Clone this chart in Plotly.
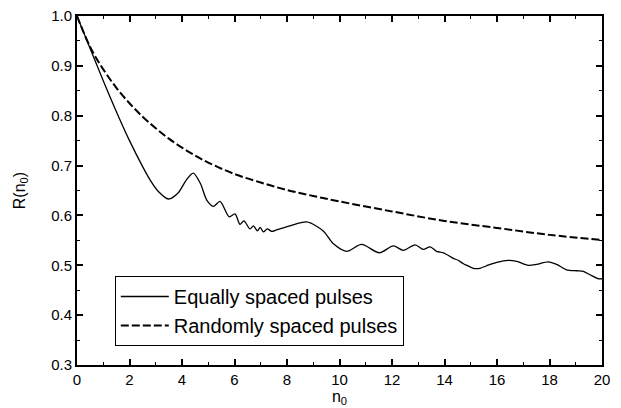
import plotly.graph_objects as go

# Equally spaced pulses (solid)
n_equal = [0, 0.5, 1.0, 1.5, 2.0, 2.5, 2.8, 3.1, 3.48, 3.85, 4.15, 4.43, 4.7, 4.95, 5.19,
           5.45, 5.8, 6.02, 6.21, 6.36, 6.59, 6.72, 6.87, 6.98, 7.1, 7.25, 7.42, 7.6,
           8.11, 8.75, 9.38, 9.77, 10.27, 10.84, 11.52, 12.05, 12.43, 12.88, 13.19, 13.45,
           13.7, 13.96, 14.34, 14.52, 14.72, 14.85, 15.1, 15.35, 15.6, 15.99, 16.43,
           16.75, 17.19, 17.51, 17.95, 18.27, 18.65, 19.04, 19.29, 19.54, 19.86, 20.0]
r_equal = [1.0, 0.935, 0.870, 0.808, 0.750, 0.698, 0.670, 0.648, 0.633, 0.645, 0.670,
           0.685, 0.664, 0.630, 0.618, 0.628, 0.597, 0.603, 0.582, 0.589, 0.573, 0.579,
           0.569, 0.576, 0.567, 0.573, 0.568, 0.571, 0.579, 0.587, 0.569, 0.543, 0.528,
           0.542, 0.525, 0.539, 0.530, 0.541, 0.532, 0.537, 0.528, 0.525, 0.514, 0.510,
           0.503, 0.500, 0.494, 0.494, 0.499, 0.506, 0.510, 0.508, 0.500, 0.502, 0.507,
           0.502, 0.491, 0.489, 0.488, 0.481, 0.473, 0.473]

# Randomly spaced pulses (dashed)
n_random = [0, 0.5, 1, 1.5, 2, 2.5, 3, 3.5, 4, 4.5, 5, 6, 7, 8, 9, 10, 12, 14, 16, 18, 20]
r_random = [1.0, 0.938, 0.893, 0.856, 0.825, 0.798, 0.775, 0.754, 0.736, 0.720, 0.706,
            0.683, 0.666, 0.651, 0.639, 0.628, 0.608, 0.589, 0.575, 0.561, 0.551]

x_ticks = [0, 2, 4, 6, 8, 10, 12, 14, 16, 18, 20]
y_ticks = [0.3, 0.4, 0.5, 0.6, 0.7, 0.8, 0.9, 1.0]

FONT = "Liberation Sans, Arial, sans-serif"

fig = go.Figure()
fig.add_trace(go.Scatter(x=n_equal, y=r_equal, mode="lines", name="Equally spaced pulses",
                         line=dict(color="black", width=1.3, shape="spline", smoothing=0.8)))
fig.add_trace(go.Scatter(x=n_random, y=r_random, mode="lines", name="Randomly spaced pulses",
                         line=dict(color="black", width=2, dash="8px,3px", shape="spline")))

axis_common = dict(showline=True, linecolor="black", linewidth=2, mirror="ticks",
                   ticks="inside", ticklen=6, tickwidth=1.5, tickcolor="black",
                   showgrid=False, zeroline=False,
                   tickfont=dict(family=FONT, size=15, color="black"))

fig.update_xaxes(range=[0, 20], tickvals=x_ticks, ticktext=[str(v) for v in x_ticks],
                 minor=dict(ticks="inside", dtick=1, ticklen=3, tickcolor="black", tickwidth=1.2),
                 title=dict(text="n<sub>0</sub>", font=dict(family=FONT, size=16, color="black"),
                            standoff=0),
                 **axis_common)
fig.update_yaxes(range=[0.3, 1.0], tickvals=y_ticks, ticktext=[f"{v:.1f}" for v in y_ticks],
                 minor=dict(ticks="inside", dtick=0.05, ticklen=3, tickcolor="black", tickwidth=1.2),
                 title=dict(text="R(n<sub>0</sub>)", font=dict(family=FONT, size=16, color="black"),
                            standoff=22),
                 **axis_common)

fig.update_layout(
    width=621, height=408,
    margin=dict(l=77, r=19, t=7, b=43),
    plot_bgcolor="white", paper_bgcolor="white",
    font=dict(family=FONT, color="black"),
    legend=dict(x=0.072, y=0.255, xanchor="left", yanchor="top",
                bordercolor="black", borderwidth=1, bgcolor="white",
                font=dict(family=FONT, size=20, color="black"),
                tracegroupgap=0, itemwidth=48),
)

fig.write_html("out.html", config={"displayModeBar": False},
               post_script="document.body.style.margin='0';document.body.style.padding='0';")
